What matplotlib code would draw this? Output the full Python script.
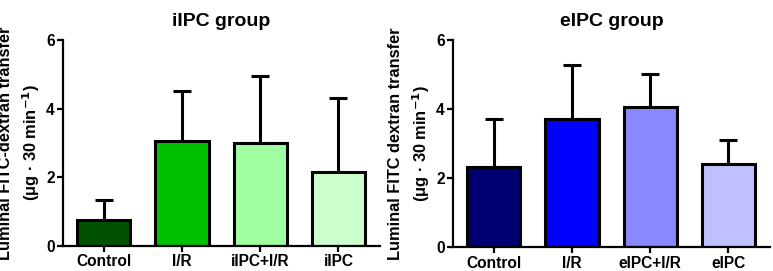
import numpy as np
import matplotlib.pyplot as plt

plt.rcParams['font.family'] = ['Liberation Sans', 'DejaVu Sans']
plt.rcParams['font.weight'] = 'bold'
plt.rcParams['mathtext.default'] = 'bf'

# left panel: iIPC group
labels_i = ["Control", "I/R", "iIPC+I/R", "iIPC"]
means_i = [0.75, 3.05, 3.0, 2.17]
err_i = [0.58, 1.47, 1.94, 2.13]
colors_i = ["#005200", "#00c000", "#a0ffa0", "#ccffcc"]

# right panel: eIPC group
labels_e = ["Control", "I/R", "eIPC+I/R", "eIPC"]
means_e = [2.33, 3.71, 4.05, 2.42]
err_e = [1.40, 1.57, 0.96, 0.68]
colors_e = ["#000070", "#0000ff", "#8888ff", "#c0c0ff"]

ylabel = "Luminal FITC-dextran transfer\n(μg · 30 min$^{-1}$)"
ylabel_e = "Luminal FITC dextran transfer\n(μg · 30 min$^{-1}$)"

fig = plt.figure(figsize=(7.73, 2.71), dpi=100)
ax1 = fig.add_axes([0.0815, 0.092, 0.41, 0.76])
ax2 = fig.add_axes([0.586, 0.087, 0.41, 0.765])


def draw(ax, labels, means, errs, colors, title, ylab):
    x = np.arange(len(labels))
    ax.bar(x, means, width=0.68, color=colors, edgecolor="black", linewidth=2.2, zorder=2)
    ax.errorbar(x, means, yerr=[np.zeros(len(errs)), errs], fmt="none", ecolor="black",
                elinewidth=2.2, capsize=6.5, capthick=2.2, zorder=1)
    ax.set_xlim(-0.52, 3.53)
    ax.set_ylim(0, 6)
    ax.set_yticks([0, 2, 4, 6])
    ax.set_xticks(x)
    ax.set_xticklabels(labels)
    for s in ["top", "right"]:
        ax.spines[s].set_visible(False)
    for s in ["left", "bottom"]:
        ax.spines[s].set_linewidth(1.6)
    ax.tick_params(width=1.6, length=4, labelsize=11.2, pad=2)
    ax.set_title(title, fontsize=14, fontweight="bold", pad=10)
    ax.set_ylabel(ylab, fontsize=11.8, fontweight="bold", labelpad=3, linespacing=1.4)


draw(ax1, labels_i, means_i, err_i, colors_i, "iIPC group", ylabel)
draw(ax2, labels_e, means_e, err_e, colors_e, "eIPC group", ylabel_e)

fig.savefig("out.png", dpi=100)
